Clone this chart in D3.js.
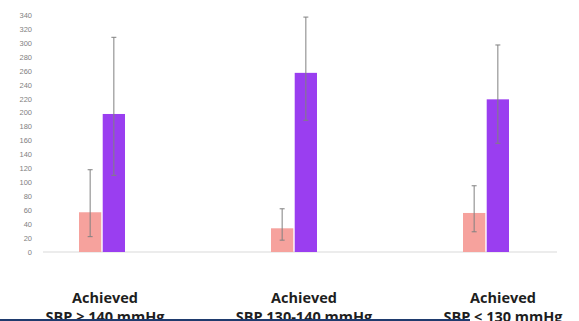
<!DOCTYPE html>
<html>
<head>
<meta charset="utf-8">
<script src="https://cdn.jsdelivr.net/npm/d3@7"></script>
<style>
  html, body { margin: 0; padding: 0; background: #fff; }
  svg { display: block; }
</style>
</head>
<body>
<svg id="chart" width="579" height="321"></svg>
<script>
// Category groups and tick labels
const categories = ["Achieved SBP ≥ 140 mmHg", "Achieved SBP 130-140 mmHg", "Achieved SBP < 130 mmHg"];
const labelLine1 = ["Achieved", "Achieved", "Achieved"];
const labelLine2 = ["SBP ≥ 140 mmHg", "SBP 130-140 mmHg", "SBP < 130 mmHg"];
const yTicks = d3.range(0, 341, 20);

// Series: bar means with lower / upper error-bar bounds
const seriesNames = ["pink", "purple"];
const pinkValues = [57, 34, 56];
const pinkLow = [22, 17, 29];
const pinkHigh = [118, 62, 95];
const purpleValues = [198, 257, 219];
const purpleLow = [110, 189, 156];
const purpleHigh = [308, 337, 297];

const colors = { pink: "#f6a29d", purple: "#9a3ef0" };

const rows = [];
categories.forEach((c, i) => {
  rows.push({ cat: c, s: "pink", v: pinkValues[i], lo: pinkLow[i], hi: pinkHigh[i] });
  rows.push({ cat: c, s: "purple", v: purpleValues[i], lo: purpleLow[i], hi: purpleHigh[i] });
});

const svg = d3.select("#chart");

const y = d3.scaleLinear().domain([0, 340]).range([252, 15]);
const x = d3.scalePoint().domain(categories).range([102, 486]);
const xs = d3.scaleBand().domain(seriesNames).range([-23, 23]).paddingInner(0.06);
const xLabel = d3.scalePoint().domain(categories).range([105, 503]);

// Baseline
svg.append("line")
  .attr("x1", 43).attr("x2", 557)
  .attr("y1", y(0)).attr("y2", y(0))
  .attr("stroke", "#d9d9d9").attr("stroke-width", 1.2);

// Y axis (labels only)
const yAxis = d3.axisLeft(y).tickValues(yTicks).tickSize(0).tickPadding(0);
const gy = svg.append("g").attr("transform", "translate(32,0)").call(yAxis);
gy.select(".domain").remove();
gy.selectAll("text")
  .attr("fill", "#7f7f7f")
  .style("font-family", "'Liberation Sans', Arial, sans-serif")
  .style("font-size", "7.5px");

// Bars
svg.append("g").selectAll("rect").data(rows).join("rect")
  .attr("x", d => x(d.cat) + xs(d.s))
  .attr("width", xs.bandwidth())
  .attr("y", d => y(d.v))
  .attr("height", d => y(0) - y(d.v))
  .attr("fill", d => colors[d.s]);

// Error bars
const eg = svg.append("g").attr("stroke", "#808080").attr("stroke-width", 1);
rows.forEach(d => {
  const cx = x(d.cat) + xs(d.s) + xs.bandwidth() / 2;
  eg.append("line").attr("x1", cx).attr("x2", cx).attr("y1", y(d.hi)).attr("y2", y(d.lo));
  eg.append("line").attr("x1", cx - 2.5).attr("x2", cx + 2.5).attr("y1", y(d.hi)).attr("y2", y(d.hi));
  eg.append("line").attr("x1", cx - 2.5).attr("x2", cx + 2.5).attr("y1", y(d.lo)).attr("y2", y(d.lo));
});

// Category labels
const lg = svg.append("g")
  .style("font-family", "'Open Sans', 'Liberation Sans', sans-serif")
  .style("font-weight", "bold")
  .style("font-size", "14.5px")
  .attr("fill", "#1e1e1e")
  .attr("text-anchor", "middle");
categories.forEach((c, i) => {
  lg.append("text").attr("x", xLabel(c)).attr("y", 303).text(labelLine1[i]);
  lg.append("text").attr("x", xLabel(c)).attr("y", 322).text(labelLine2[i]);
});

// Navy rule along the bottom edge
svg.append("rect")
  .attr("x", 0).attr("y", 319).attr("width", 470).attr("height", 2)
  .attr("fill", "#1f3b6e");
</script>
</body>
</html>
